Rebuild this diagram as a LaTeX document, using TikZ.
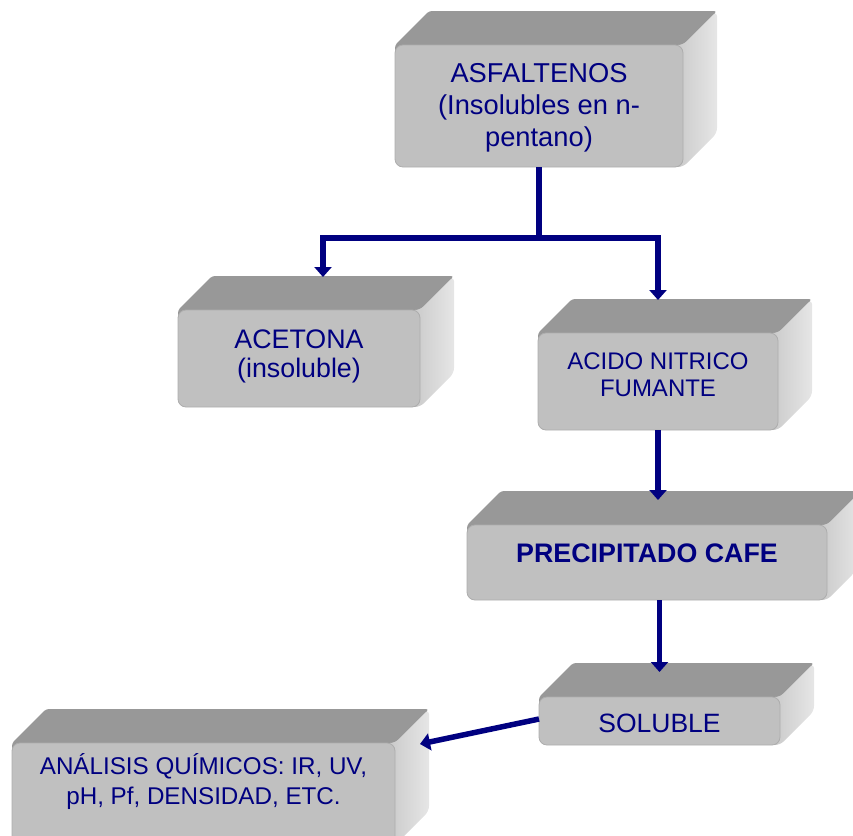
\documentclass[tikz,border=0pt]{standalone}
\usepackage{fontspec}
\setmainfont{Liberation Sans}
\usetikzlibrary{arrows.meta}

\definecolor{navyline}{HTML}{000080}
\definecolor{frontgray}{HTML}{C0C0C0}
\definecolor{topgray}{HTML}{989898}
\definecolor{sidelight}{HTML}{E6E6E6}
\definecolor{sidedark}{HTML}{C8C8C8}
\definecolor{edgegray}{HTML}{ADADAD}

\tikzset{
  topface/.style={fill=topgray, rounded corners=3pt},
  sideface/.style={left color=sidedark, right color=sidelight, rounded corners=5pt},
  frontface/.style={draw=edgegray, line width=0.8pt, fill=frontgray,
    rounded corners=8pt, inner sep=0pt, outer sep=0pt},
  boxtext/.style={text=navyline, align=center, inner sep=0pt},
  conn/.style={draw=navyline, line width=5.5pt, line join=miter,
    -{Triangle[width=17pt,length=10pt]}},
}

% #1 name, #2/#3 front top-left, #4/#5 front bottom-right,
% #6 vertical text offset, #7 font, #8 text
\newcommand\solidbox[8]{%
  \fill[topface] (#2,{#3+10}) -- (#2,#3) -- ({#2+34},{#3-34})
    -- ({#4+34},{#3-34}) -- (#4,#3) -- (#4,{#3+10}) -- cycle;
  \shade[sideface] ({#4-10},#3) -- (#4,#3) -- ({#4+34},{#3-34})
    -- ({#4+34},{#5-34}) -- (#4,#5) -- ({#4-10},#5) -- cycle;
  \node[frontface, minimum width={#4-#2}, minimum height={#5-#3}]
    (#1) at ({(#2+#4)/2},{(#3+#5)/2}) {};
  \node[boxtext, font=#7] (#1-label) at ({(#2+#4)/2},{(#3+#5)/2+#6}) {#8};
}

\begin{document}
\begin{tikzpicture}[x=1pt, y=-1pt]
  \useasboundingbox (0,0) rectangle (853,835);
  \clip (0,0) rectangle (853,835);

  \solidbox{asf}{395}{45}{683}{167}{2}{\fontsize{27.3}{32}\selectfont}
    {ASFALTENOS\\(Insolubles en n-\\pentano)}
  \solidbox{acet}{178}{310}{420}{407}{-2.5}{\fontsize{26.8}{29}\selectfont}
    {ACETONA\\(insoluble)}
  \solidbox{acid}{538}{333}{778}{430}{-6.5}{\fontsize{24}{27}\selectfont}
    {ACIDO NITRICO\\FUMANTE}
  \solidbox{prec}{467}{525}{827}{600}{-9}{\fontsize{26.8}{30}\selectfont\bfseries}
    {PRECIPITADO CAFE}
  \solidbox{sol}{539}{697}{780}{745}{2.7}{\fontsize{26.5}{30}\selectfont}
    {SOLUBLE}
  \solidbox{ana}{12}{743}{395}{845}{-12.7}{\fontsize{24.2}{30}\selectfont}
    {ANÁLISIS QUÍMICOS: IR, UV,\\pH, Pf, DENSIDAD, ETC.}

  % connectors
  \coordinate (fork) at (539,238);
  \draw[conn] (asf.south) -- (fork) -| ([xshift=24pt,yshift=33pt]acet.north);
  \draw[conn] (fork) -| ([yshift=33pt]acid.north);
  \draw[conn] (acid.south) -- ([yshift=25pt]acid.south |- prec.north);
  \draw[conn] (prec.south -| sol.north) -- ([yshift=25pt]sol.north);
  \draw[conn] ([yshift=2pt]sol.west) -- ([xshift=25pt,yshift=-1pt]ana.north east);
\end{tikzpicture}
\end{document}
